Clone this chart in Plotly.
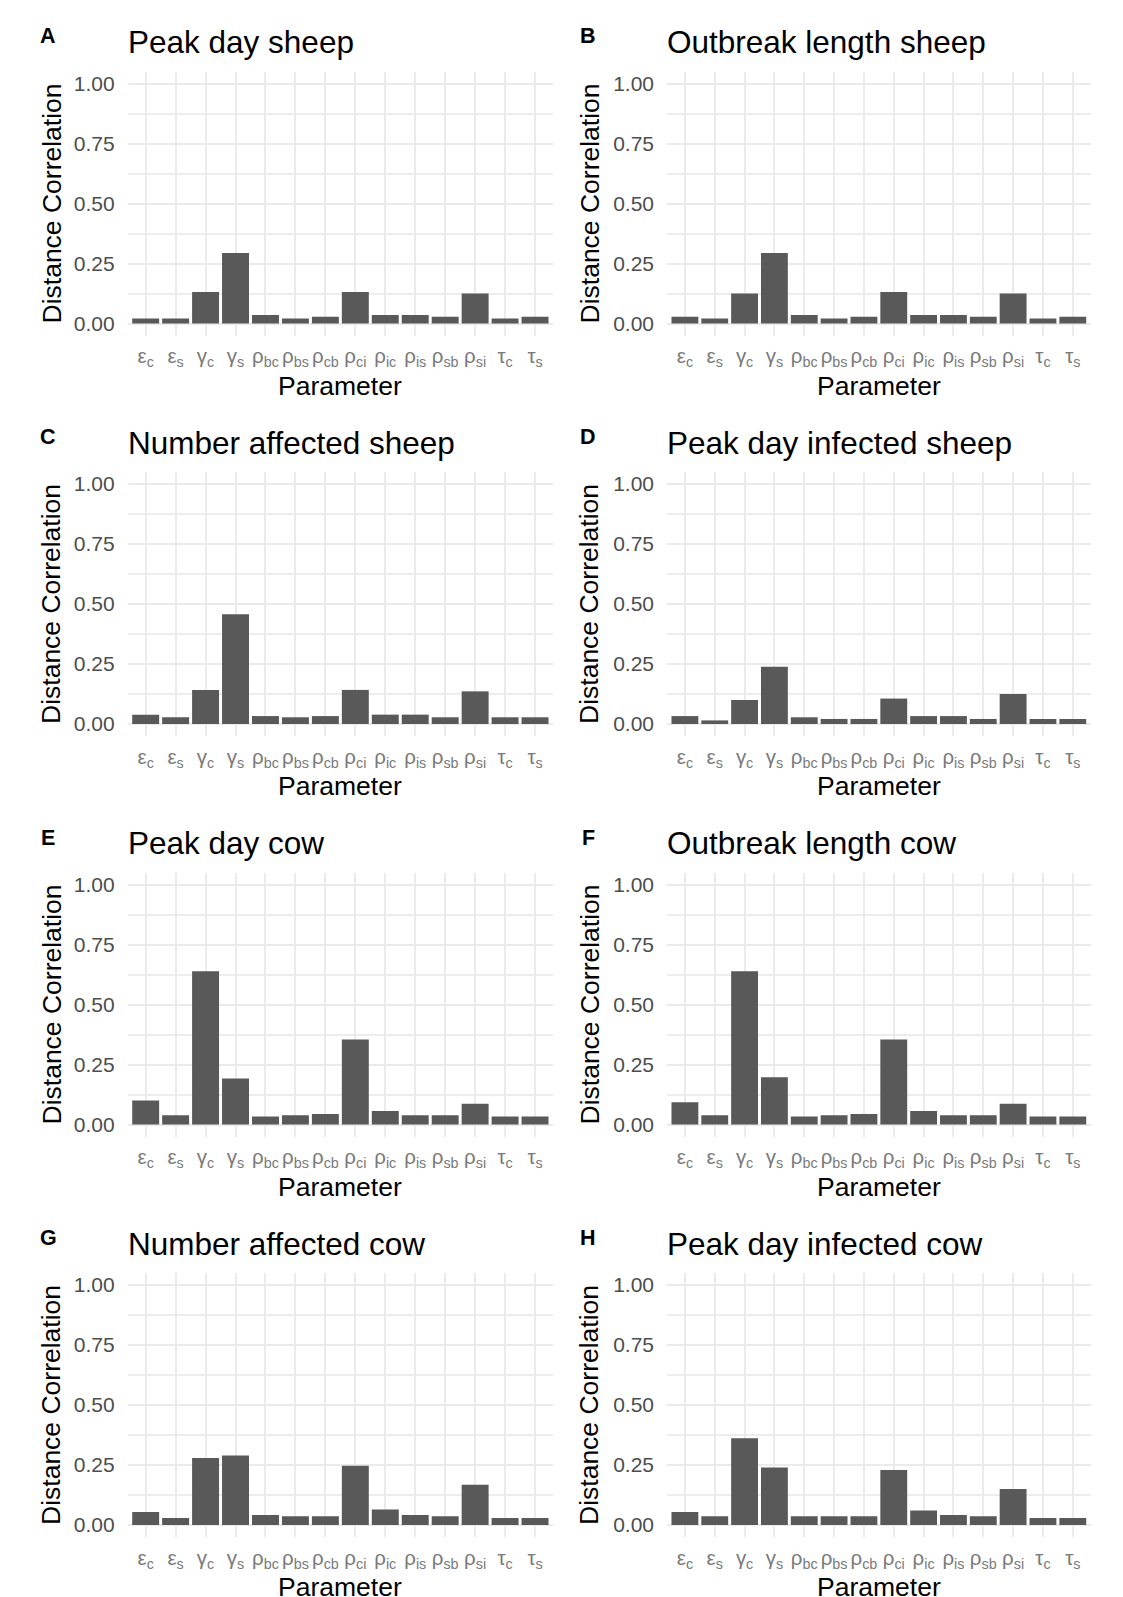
import plotly.graph_objects as go

# Parameter labels (categories on every x axis)
params = [
    "ε<sub>c</sub>", "ε<sub>s</sub>", "γ<sub>c</sub>", "γ<sub>s</sub>",
    "ρ<sub>bc</sub>", "ρ<sub>bs</sub>", "ρ<sub>cb</sub>", "ρ<sub>ci</sub>",
    "ρ<sub>ic</sub>", "ρ<sub>is</sub>", "ρ<sub>sb</sub>", "ρ<sub>si</sub>",
    "τ<sub>c</sub>", "τ<sub>s</sub>",
]

panel_letters = ["A", "B", "C", "D", "E", "F", "G", "H"]
panel_titles = [
    "Peak day sheep", "Outbreak length sheep",
    "Number affected sheep", "Peak day infected sheep",
    "Peak day cow", "Outbreak length cow",
    "Number affected cow", "Peak day infected cow",
]

# Distance correlation of each output with each parameter
peak_day_sheep = [0.021, 0.021, 0.131, 0.294, 0.035, 0.021, 0.028,
                  0.131, 0.035, 0.035, 0.028, 0.125, 0.021, 0.028]
outbreak_length_sheep = [0.028, 0.021, 0.125, 0.294, 0.035, 0.021, 0.028,
                         0.131, 0.035, 0.035, 0.028, 0.125, 0.021, 0.028]
number_affected_sheep = [0.039, 0.028, 0.142, 0.457, 0.033, 0.028, 0.033,
                         0.142, 0.039, 0.039, 0.028, 0.136, 0.028, 0.028]
peak_day_infected_sheep = [0.033, 0.015, 0.100, 0.239, 0.028, 0.021, 0.021,
                           0.106, 0.033, 0.033, 0.021, 0.125, 0.021, 0.021]
peak_day_cow = [0.100, 0.039, 0.639, 0.192, 0.033, 0.039, 0.044,
                0.354, 0.056, 0.039, 0.039, 0.086, 0.033, 0.033]
outbreak_length_cow = [0.093, 0.039, 0.639, 0.197, 0.033, 0.039, 0.044,
                       0.354, 0.056, 0.039, 0.039, 0.086, 0.033, 0.033]
number_affected_cow = [0.054, 0.029, 0.279, 0.290, 0.042, 0.036, 0.036,
                       0.247, 0.065, 0.042, 0.036, 0.168, 0.029, 0.029]
peak_day_infected_cow = [0.054, 0.036, 0.361, 0.240, 0.036, 0.036, 0.036,
                         0.229, 0.060, 0.042, 0.036, 0.150, 0.029, 0.029]

panel_values = [
    peak_day_sheep, outbreak_length_sheep,
    number_affected_sheep, peak_day_infected_sheep,
    peak_day_cow, outbreak_length_cow,
    number_affected_cow, peak_day_infected_cow,
]

y_title = "Distance Correlation"
x_title = "Parameter"

W, H = 1123, 1597
FONT = "Liberation Sans, Arial, Helvetica, sans-serif"
BAR = "#595959"
GRID = "#EBEBEB"


def px_x(v):
    return v / W


def px_y(v):
    return 1 - v / H


# Panel geometry in pixels
col_left = [127.7, 667.0]
col_right = [553.0, 1090.7]
letter_x = [48, 588]
ytitle_x = [51, 589]
row_zero = [323.5 + 400.5 * r for r in range(4)]
unit = 240.0

fig = go.Figure()
annotations = []

for i, (vals, letter, title) in enumerate(zip(panel_values, panel_letters, panel_titles)):
    r, c = divmod(i, 2)
    n = i + 1
    xa = "x" if n == 1 else f"x{n}"
    ya = "y" if n == 1 else f"y{n}"
    fig.add_trace(go.Bar(
        x=params, y=vals, xaxis=xa, yaxis=ya,
        marker=dict(color=BAR, line=dict(width=0)),
        showlegend=False, hoverinfo="x+y",
    ))

    y0 = row_zero[r]
    top = y0 - 1.05 * unit
    bottom = y0 + 0.05 * unit
    x0, x1 = col_left[c], col_right[c]

    xkey = "xaxis" if n == 1 else f"xaxis{n}"
    ykey = "yaxis" if n == 1 else f"yaxis{n}"
    fig.layout[xkey] = dict(
        domain=[px_x(x0), px_x(x1)], anchor=ya,
        type="category", categoryorder="array", categoryarray=params,
        range=[-0.6, len(params) - 0.4],
        showgrid=True, gridcolor=GRID, gridwidth=2,
        showline=False, zeroline=False, ticks="",
        tickfont=dict(family=FONT, size=20.5, color="#7a7a7a"),
        ticklabelstandoff=6, fixedrange=True,
    )
    fig.layout[ykey] = dict(
        domain=[px_y(bottom), px_y(top)], anchor=xa,
        range=[-0.05, 1.05], tickvals=[0, 0.25, 0.5, 0.75, 1.0],
        ticktext=["0.00", "0.25", "0.50", "0.75", "1.00"],
        showgrid=True, gridcolor=GRID, gridwidth=2,
        minor=dict(dtick=0.125, tick0=0, showgrid=True, gridcolor="#EDEDED", gridwidth=1.6),
        showline=False, zeroline=False, ticks="",
        tickfont=dict(family=FONT, size=21, color="#4D4D4D"),
        ticklabelstandoff=12, fixedrange=True,
    )

    # panel letter
    annotations.append(dict(
        text=f"<b>{letter}</b>", x=px_x(letter_x[c]), y=px_y(top - 35),
        xref="paper", yref="paper", xanchor="center", yanchor="middle",
        showarrow=False, font=dict(family=FONT, size=21.5, color="black"),
    ))
    # panel title
    annotations.append(dict(
        text=title, x=px_x(x0 - 2), y=px_y(top - 29),
        xref="paper", yref="paper", xanchor="left", yanchor="middle",
        showarrow=False, font=dict(family=FONT, size=31.5, color="black"),
    ))
    # y axis title
    annotations.append(dict(
        text=y_title, x=px_x(ytitle_x[c]), y=px_y((top + bottom) / 2),
        xref="paper", yref="paper", xanchor="center", yanchor="middle",
        textangle=-90, showarrow=False,
        font=dict(family=FONT, size=26.5, color="black"),
    ))
    # x axis title
    annotations.append(dict(
        text=x_title, x=px_x((x0 + x1) / 2), y=px_y(bottom + 50),
        xref="paper", yref="paper", xanchor="center", yanchor="middle",
        showarrow=False, font=dict(family=FONT, size=26.5, color="black"),
    ))

fig.update_layout(
    width=W, height=H,
    margin=dict(l=0, r=0, t=0, b=0),
    paper_bgcolor="white", plot_bgcolor="white",
    bargap=0.1,
    annotations=annotations,
    font=dict(family=FONT),
)

fig.write_html("out.html", config={"displayModeBar": False})
